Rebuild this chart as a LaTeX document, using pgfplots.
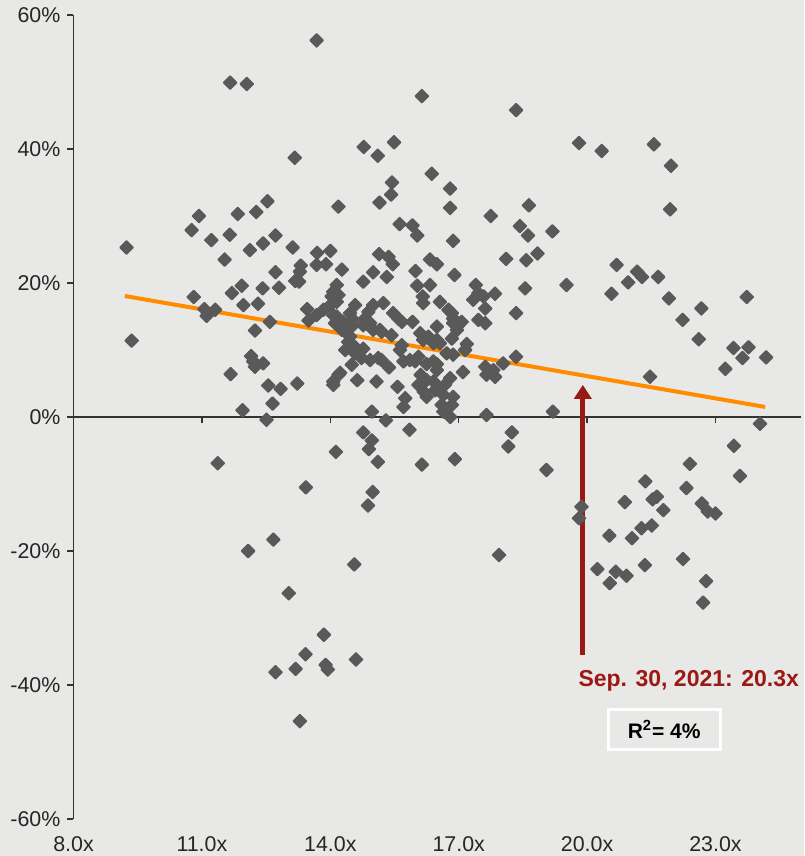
\documentclass[border=0pt]{standalone}
\usepackage{fontspec}
\setmainfont{Liberation Sans}
\usepackage{pgfplots}
\pgfplotsset{compat=1.18}
\usetikzlibrary{arrows.meta,backgrounds}
\definecolor{bg}{RGB}{232,232,230}
\definecolor{ptc}{RGB}{89,89,89}
\definecolor{trend}{RGB}{255,140,0}
\definecolor{arr}{RGB}{155,25,20}
\definecolor{axc}{RGB}{51,51,51}
\begin{document}
\begin{tikzpicture}
\begin{axis}[
 scale only axis, width=363.8pt, height=402pt,
 xmin=8, xmax=25, ymin=-60, ymax=60,
 axis y line=left, axis x line=middle,
 x axis line style={-, axc, line width=0.75pt},
 y axis line style={-, axc, line width=0.75pt},
 xtick={8,11,14,17,20,23}, ytick={-60,-40,-20,0,20,40,60},
 tick align=outside, major tick length=3pt,
 tick style={axc, line width=0.75pt},
 hide obscured x ticks=false, hide obscured y ticks=false,
 /pgf/number format/assume math mode=true,
 tick label style={font=\fontsize{10.7}{12}\selectfont, text=black!85},
 xticklabel={\pgfmathprintnumber[fixed,fixed zerofill,precision=1]{\tick}x},
 yticklabel={\pgfmathprintnumber[fixed,precision=0]{\tick}\%},
 xticklabel style={anchor=center, yshift=-210.5pt},
 clip=false,
]
\coordinate (o) at (rel axis cs:0,0);
\addplot[only marks, mark=square*, mark size=2.3pt,
  mark options={rotate=45, fill=ptc, draw=ptc, line width=0.8pt, line join=round}] table {
x y
13.68 56.2
11.66 49.9
12.05 49.7
13.17 38.7
12.53 32.2
10.93 30.0
11.84 30.3
12.27 30.6
14.19 31.4
10.76 27.9
11.22 26.4
11.65 27.2
12.72 27.1
12.43 25.9
12.12 24.9
9.24 25.3
13.12 25.3
13.69 24.5
14.00 24.8
11.53 23.5
13.31 22.6
13.68 22.7
13.90 22.8
12.72 21.6
13.29 21.7
13.18 20.3
13.27 20.2
14.07 18.7
14.15 19.7
11.93 19.6
11.70 18.5
12.42 19.2
12.80 19.3
10.81 17.9
11.06 16.1
11.11 15.1
11.31 16.0
11.97 16.7
12.31 16.9
12.59 14.2
12.24 12.9
13.46 16.1
13.49 14.4
13.68 15.2
13.84 16.0
14.00 16.7
14.07 15.2
14.15 14.2
9.36 11.4
12.15 9.1
12.20 8.3
12.43 8.0
12.24 7.5
11.67 6.4
12.55 4.7
12.84 4.2
13.23 5.0
14.07 4.8
14.19 6.3
11.95 1.0
12.65 2.0
12.51 -0.4
11.37 -6.9
16.14 47.9
18.34 45.8
14.78 40.3
15.49 41.0
15.11 39.0
16.37 36.3
15.44 35.0
15.42 33.2
16.80 34.1
16.80 31.2
15.15 32.0
17.75 30.0
18.64 31.6
18.43 28.5
18.62 27.1
19.19 27.7
15.62 28.8
15.92 28.6
16.03 27.1
16.87 26.3
18.84 24.4
18.11 23.6
18.58 23.4
14.27 22.0
15.14 24.3
15.36 23.9
15.46 22.8
15.00 21.6
15.32 20.9
16.33 23.5
16.49 22.8
15.99 21.8
16.90 21.2
14.77 20.2
16.03 19.6
16.33 19.7
17.40 19.7
17.46 18.5
17.34 17.5
17.58 18.0
17.62 16.2
17.85 18.4
18.55 19.2
19.52 19.7
16.16 18.0
16.17 17.0
16.56 17.2
15.24 17.0
15.00 16.7
14.89 15.7
14.03 18.0
14.15 17.2
14.19 18.2
14.58 16.7
15.47 15.5
15.67 14.2
15.59 14.7
15.92 14.2
16.76 16.0
16.84 15.5
16.87 14.7
16.87 14.0
17.07 14.2
16.96 13.0
17.46 14.5
17.62 14.0
18.34 15.5
14.15 15.0
14.30 14.2
14.46 15.5
14.54 14.5
14.11 14.0
14.27 13.0
14.50 13.5
14.81 14.7
14.77 13.7
15.00 13.0
15.20 12.7
15.43 12.2
14.93 14.0
15.16 13.0
16.49 13.5
16.99 13.7
16.84 11.7
16.10 12.5
16.17 11.5
16.29 12.0
16.41 11.0
16.49 11.5
16.56 11.0
14.46 12.0
14.42 11.2
14.54 10.7
14.35 10.0
14.77 10.2
14.58 9.5
14.93 8.5
15.12 8.8
15.20 8.5
14.73 8.8
15.37 7.4
15.67 10.7
15.63 10.0
15.71 8.3
15.86 8.5
15.98 8.3
16.06 9.0
16.25 7.9
16.49 7.9
16.41 8.3
16.49 7.0
16.72 9.5
16.87 9.3
17.15 10.0
17.19 10.9
17.10 6.7
17.65 6.3
17.81 7.0
17.85 6.0
17.62 7.5
18.04 8.0
18.34 9.0
14.50 7.8
14.23 6.6
14.07 5.3
14.63 5.5
15.08 5.3
16.11 6.3
16.06 4.8
16.25 5.5
16.18 3.8
16.25 3.0
16.41 5.3
16.56 4.2
16.45 4.0
16.68 4.8
16.80 5.8
16.64 3.3
16.87 3.0
15.57 4.5
15.75 2.8
15.71 1.5
16.60 1.8
16.84 1.8
16.64 0.8
16.80 0.0
14.97 0.8
15.30 -0.5
17.65 0.3
19.20 0.8
14.77 -2.3
14.97 -3.5
14.90 -4.8
15.85 -1.9
18.24 -2.3
18.16 -4.4
14.13 -5.2
15.11 -6.7
16.14 -7.1
16.91 -6.3
13.43 -10.5
14.99 -11.2
14.88 -13.2
12.67 -18.3
12.08 -20.0
14.56 -22.0
17.94 -20.6
13.03 -26.3
13.85 -32.5
13.42 -35.4
12.72 -38.1
13.19 -37.6
13.89 -37.0
13.94 -37.7
14.60 -36.2
13.29 -45.4
19.81 40.9
20.34 39.7
21.56 40.7
21.96 37.5
21.94 31.0
20.69 22.7
20.57 18.4
20.96 20.1
21.17 21.7
21.28 20.9
21.66 20.9
21.91 17.7
22.23 14.5
22.67 16.2
22.61 11.6
23.73 17.9
23.42 10.3
23.77 10.4
23.63 8.8
23.23 7.2
24.18 8.9
21.47 6.0
24.04 -1.0
23.43 -4.3
23.57 -8.8
19.05 -7.9
19.87 -13.4
19.81 -15.1
22.40 -7.0
21.36 -9.6
22.32 -10.6
20.88 -12.7
21.53 -12.3
21.63 -11.9
21.78 -13.9
22.68 -12.9
22.82 -14.1
23.00 -14.4
20.52 -17.7
21.05 -18.1
21.27 -16.6
21.51 -16.2
20.24 -22.7
20.67 -23.1
20.92 -23.7
20.53 -24.8
21.35 -22.1
22.24 -21.2
22.78 -24.5
22.71 -27.7
};
\addplot[trend, line width=2pt] coordinates {(9.2,18.06) (24.16,1.5)};
\addplot[arr, line width=2.5pt, -{Triangle[width=8.5pt,length=7pt]}] coordinates {(19.9,-35.5) (19.9,4.8)};
\node[anchor=base west, inner sep=0pt, text=arr, font=\bfseries\fontsize{11.5}{14}\selectfont] at (axis cs:19.79,-40.25) {Sep. 30, 2021: 20.3x};
\node[draw=white, line width=1.5pt, fill=bg, minimum width=56pt, minimum height=20pt, inner sep=0pt, font=\bfseries\fontsize{10.5}{12}\selectfont] at (axis cs:21.8,-46.7) {R\textsuperscript{2}= 4\%};
\end{axis}
\begin{scope}[on background layer]
\fill[bg] ([xshift=-36.75pt,yshift=-18.5pt]o) rectangle ++(402pt,428pt);
\end{scope}
\pgfresetboundingbox
\path ([xshift=-36.75pt,yshift=-18.5pt]o) rectangle ++(402pt,428pt);
\end{tikzpicture}
\end{document}
